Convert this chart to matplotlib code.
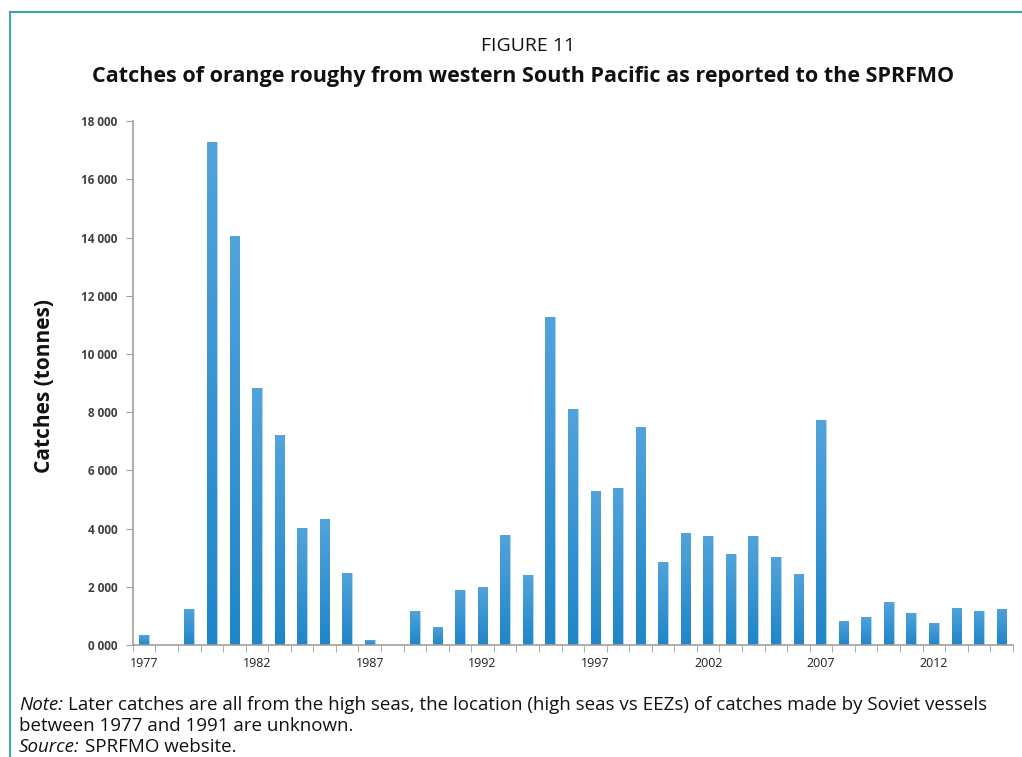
import numpy as np
import matplotlib.pyplot as plt
from matplotlib.colors import LinearSegmentedColormap

years = list(range(1977, 2016))
catches = [330, 0, 1240, 17290, 14040, 8840, 7220, 4010, 4320, 2460,
           170, 0, 1170, 620, 1880, 1980, 3790, 2390, 11280, 8110,
           5300, 5400, 7480, 2860, 3860, 3750, 3120, 3750, 3010, 2430,
           7730, 840, 950, 1470, 1100, 770, 1280, 1170, 1240]
label_years = [1977, 1982, 1987, 1992, 1997, 2002, 2007, 2012]
yticks = [0, 2000, 4000, 6000, 8000, 10000, 12000, 14000, 16000, 18000]

plt.rcParams['font.family'] = ['Open Sans', 'DejaVu Sans']

fig = plt.figure(figsize=(10.22, 7.57), dpi=100)
ax = fig.add_axes([0.130, 0.148, 0.861, 0.692])

x = np.arange(len(years))
bars = ax.bar(x, catches, width=0.43, color='#2b8ed0', edgecolor='#b5d8f2',
              linewidth=0.6, zorder=2)

# verloop in de staven (onder donker, boven lichter)
cmap = LinearSegmentedColormap.from_list('blauw', ['#1f86c8', '#52a3db'])
grad = np.linspace(0, 1, 256).reshape(-1, 1)
for b in bars:
    if b.get_height() <= 0:
        continue
    x0, w, h = b.get_x(), b.get_width(), b.get_height()
    im = ax.imshow(grad, cmap=cmap, origin='lower', aspect='auto',
                   extent=[x0, x0 + w, 0, h], zorder=2.5)
    im.set_clip_path(b)

ax.set_xlim(-0.5, len(years) - 0.5)
ax.set_ylim(0, 18000)

ax.set_yticks(yticks)
ax.set_yticklabels(['0 000'] + [f"{v:,}".replace(',', ' ') for v in yticks[1:]],
                   fontsize=8.5, fontweight='bold', color='#404040')
ax.tick_params(axis='y', direction='out', length=5, color='#a0a0a0', pad=6)

ax.set_xticks([years.index(y) for y in label_years])
ax.set_xticklabels([str(y) for y in label_years], fontsize=9, color='#202020')
ax.tick_params(axis='x', which='major', length=0, pad=9)
ax.set_xticks(np.arange(-0.5, len(years)), minor=True)
ax.tick_params(axis='x', which='minor', direction='out', length=5, color='#a0a0a0')

for s in ['top', 'right']:
    ax.spines[s].set_visible(False)
for s in ['left', 'bottom']:
    ax.spines[s].set_color('#a0a0a0')
    ax.spines[s].set_linewidth(1.2)

fig.text(0.044, 0.49, 'Catches (tonnes)', rotation=90, ha='center', va='center',
         fontsize=15, fontweight='bold', color='#111111')

fig.text(0.517, 0.939, 'FIGURE 11', ha='center', va='center', fontsize=14,
         color='#111111')
fig.text(0.512, 0.899, 'Catches of orange roughy from western South Pacific as reported to the SPRFMO',
         ha='center', va='center', fontsize=15.5, fontweight='bold', color='#111111')

# kader
fig.add_artist(plt.Line2D([10 / 1022, 1], [1 - 12 / 757, 1 - 12 / 757],
                          color='#3aa8a4', linewidth=1.5))
fig.add_artist(plt.Line2D([10 / 1022, 10 / 1022], [0, 1 - 12 / 757],
                          color='#3aa8a4', linewidth=1.5))

# noot en bron
renderer = fig.canvas.get_renderer()
def italic_then_plain(xpix, ypix, it, rest):
    t = fig.text(xpix / 1022, 1 - ypix / 757, it, fontsize=13.5, style='italic',
                 va='center', ha='left', color='#111111')
    bb = t.get_window_extent(renderer)
    fig.text(bb.x1 / 1022 + 5 / 1022, 1 - ypix / 757, rest, fontsize=13.5,
             va='center', ha='left', color='#111111')

italic_then_plain(19, 705, 'Note:', 'Later catches are all from the high seas, the location (high seas vs EEZs) of catches made by Soviet vessels')
fig.text(19 / 1022, 1 - 726 / 757, 'between 1977 and 1991 are unknown.', fontsize=13.5,
         va='center', ha='left', color='#111111')
italic_then_plain(19, 747, 'Source:', 'SPRFMO website.')

fig.savefig('out.png', dpi=100)
